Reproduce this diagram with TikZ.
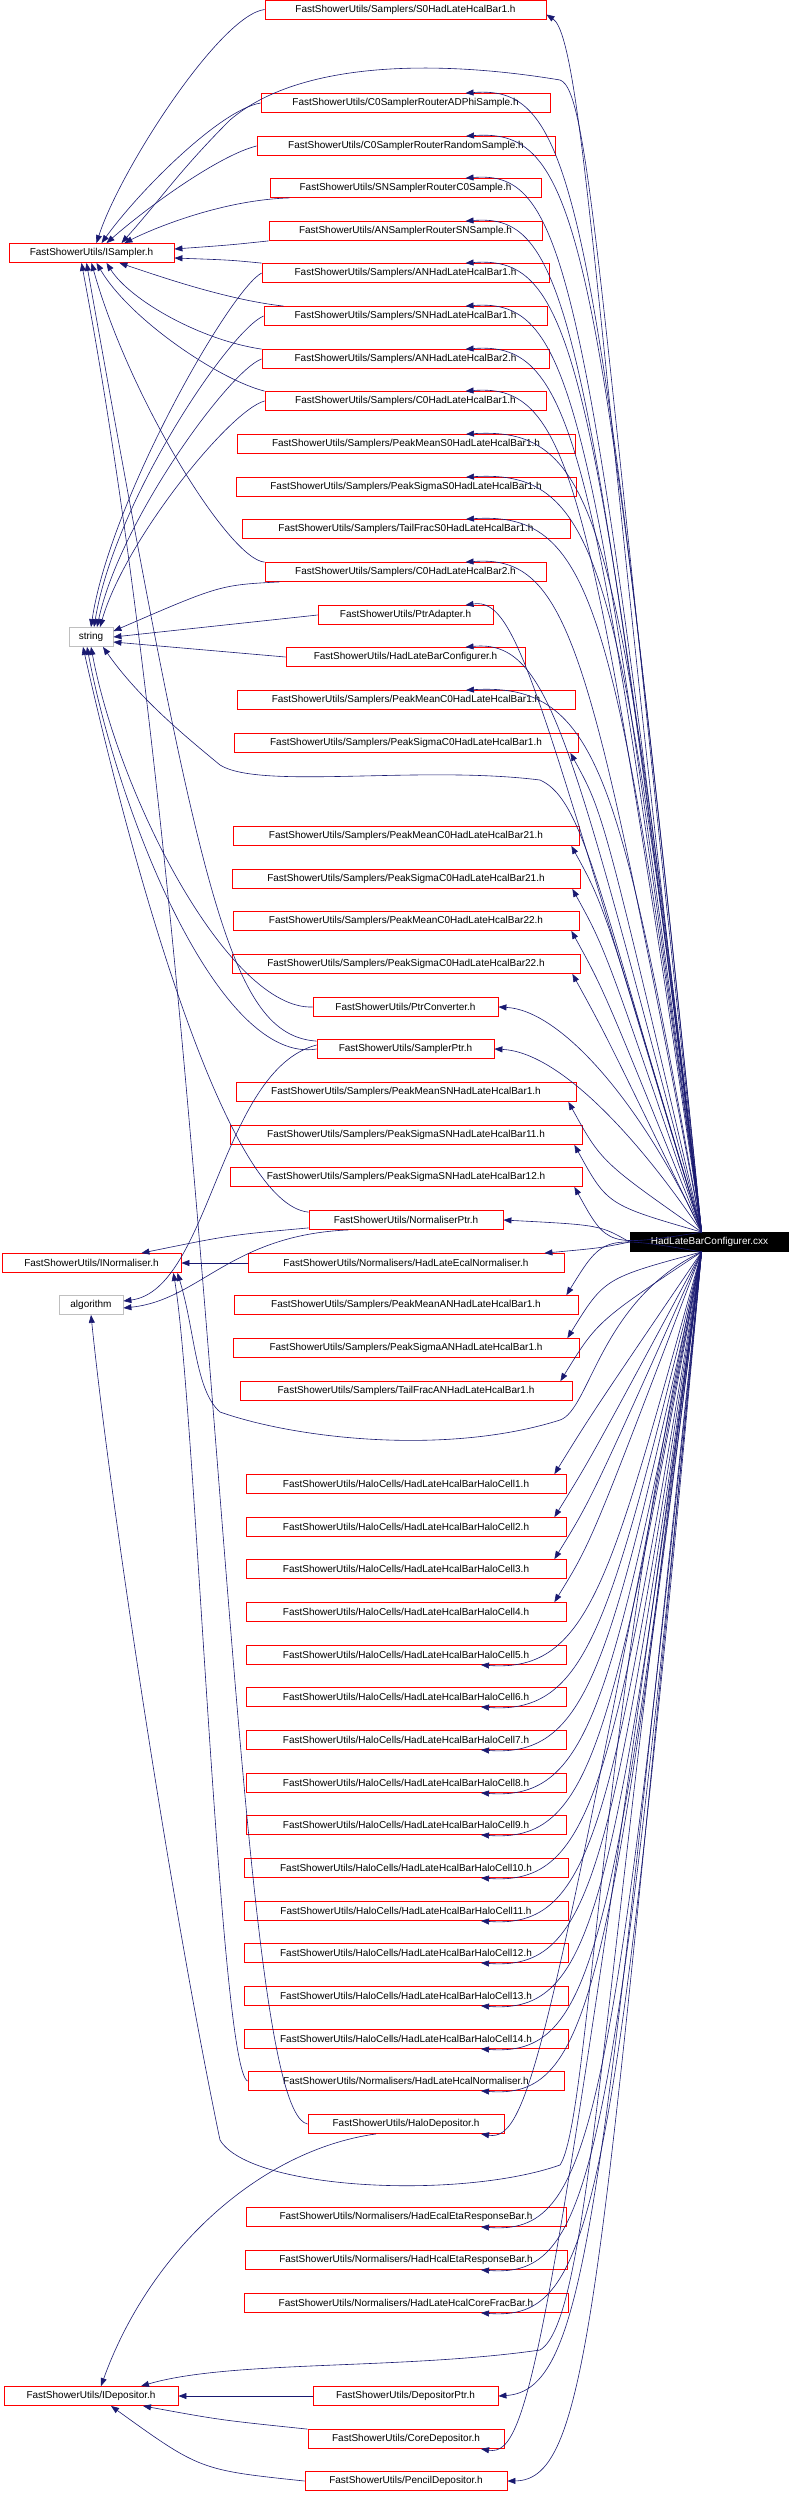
\documentclass[tikz,border=0pt]{standalone}
\usepackage{fontspec}
\setmainfont{Liberation Sans}
\usetikzlibrary{calc,arrows.meta}
\definecolor{edgec}{RGB}{25,25,112}
\begin{document}
\begin{tikzpicture}[x=1pt,y=-1pt,
  box/.style={draw=red,line width=0.8pt,minimum height=19pt,inner sep=0pt,font=\fontsize{10}{12}\selectfont},
  gbox/.style={box,draw=black!25},
  edge/.style={draw=edgec,line width=0.6pt,-{Triangle[length=8pt,width=6pt]}}]
\useasboundingbox (0,0) rectangle (789,2493);
\newcommand\bx[6][box]{\node[#1,minimum width=#4-#3] (#2) at ({(#3+#4)/2},#5) {#6};}
\bx{s0}{265}{546}{9.5}{FastShowerUtils/Samplers/S0HadLateHcalBar1.h}
\bx{adphi}{261}{550}{103}{FastShowerUtils/C0SamplerRouterADPhiSample.h}
\bx{rand}{257}{555}{146}{FastShowerUtils/C0SamplerRouterRandomSample.h}
\bx{snr}{270}{541}{188}{FastShowerUtils/SNSamplerRouterC0Sample.h}
\bx{anr}{269}{542}{231}{FastShowerUtils/ANSamplerRouterSNSample.h}
\bx{isam}{9}{174}{253}{FastShowerUtils/ISampler.h}
\bx{anh1}{262}{549}{273}{FastShowerUtils/Samplers/ANHadLateHcalBar1.h}
\bx{snh1}{264}{547}{316}{FastShowerUtils/Samplers/SNHadLateHcalBar1.h}
\bx{anh2}{262}{549}{359}{FastShowerUtils/Samplers/ANHadLateHcalBar2.h}
\bx{c0h1}{265}{546}{401}{FastShowerUtils/Samplers/C0HadLateHcalBar1.h}
\bx{pms0}{237}{575}{444}{FastShowerUtils/Samplers/PeakMeanS0HadLateHcalBar1.h}
\bx{pss0}{236}{576}{487}{FastShowerUtils/Samplers/PeakSigmaS0HadLateHcalBar1.h}
\bx{tfs0}{242}{570}{529}{FastShowerUtils/Samplers/TailFracS0HadLateHcalBar1.h}
\bx{c0h2}{265}{546}{572}{FastShowerUtils/Samplers/C0HadLateHcalBar2.h}
\bx{pad}{318}{493}{615}{FastShowerUtils/PtrAdapter.h}
\bx[gbox]{str}{69}{113}{637}{string}
\bx{hlbc}{286}{525}{657}{FastShowerUtils/HadLateBarConfigurer.h}
\bx{pmc0}{237}{575}{700}{FastShowerUtils/Samplers/PeakMeanC0HadLateHcalBar1.h}
\bx{psc0}{234}{578}{743}{FastShowerUtils/Samplers/PeakSigmaC0HadLateHcalBar1.h}
\bx{pm21}{233}{579}{836}{FastShowerUtils/Samplers/PeakMeanC0HadLateHcalBar21.h}
\bx{ps21}{232}{580}{879}{FastShowerUtils/Samplers/PeakSigmaC0HadLateHcalBar21.h}
\bx{pm22}{233}{579}{921}{FastShowerUtils/Samplers/PeakMeanC0HadLateHcalBar22.h}
\bx{ps22}{232}{580}{964}{FastShowerUtils/Samplers/PeakSigmaC0HadLateHcalBar22.h}
\bx{pcv}{313}{498}{1007}{FastShowerUtils/PtrConverter.h}
\bx{sptr}{317}{494}{1049}{FastShowerUtils/SamplerPtr.h}
\bx{pmsn}{236}{576}{1092}{FastShowerUtils/Samplers/PeakMeanSNHadLateHcalBar1.h}
\bx{pss11}{230}{582}{1135}{FastShowerUtils/Samplers/PeakSigmaSNHadLateHcalBar11.h}
\bx{pss12}{230}{582}{1177}{FastShowerUtils/Samplers/PeakSigmaSNHadLateHcalBar12.h}
\bx{nptr}{309}{503}{1220}{FastShowerUtils/NormaliserPtr.h}
\node[box,draw=black,fill=black,text=white,minimum width=159] (cxx) at (709.5,1242) {HadLateBarConfigurer.cxx};
\bx{inorm}{2}{181}{1263}{FastShowerUtils/INormaliser.h}
\bx{hlen}{248}{564}{1263}{FastShowerUtils/Normalisers/HadLateEcalNormaliser.h}
\bx[gbox]{alg}{59}{123}{1305}{algorithm}
\bx{pman}{234}{578}{1305}{FastShowerUtils/Samplers/PeakMeanANHadLateHcalBar1.h}
\bx{psan}{233}{579}{1348}{FastShowerUtils/Samplers/PeakSigmaANHadLateHcalBar1.h}
\bx{tfan}{240}{572}{1391}{FastShowerUtils/Samplers/TailFracANHadLateHcalBar1.h}
\foreach \i/\yy in {1/1484,2/1527,3/1569,4/1612,5/1655,6/1697,7/1740,8/1783,9/1825}
  {\bx{cell\i}{246}{566}{\yy}{FastShowerUtils/HaloCells/HadLateHcalBarHaloCell\i.h}}
\foreach \i/\yy in {10/1868,11/1911,12/1953,13/1996,14/2039}
  {\bx{cell\i}{244}{568}{\yy}{FastShowerUtils/HaloCells/HadLateHcalBarHaloCell\i.h}}
\bx{hlhn}{248}{564}{2081}{FastShowerUtils/Normalisers/HadLateHcalNormaliser.h}
\bx{halo}{308}{504}{2124}{FastShowerUtils/HaloDepositor.h}
\bx{hee}{246}{566}{2217}{FastShowerUtils/Normalisers/HadEcalEtaResponseBar.h}
\bx{hhe}{245}{567}{2260}{FastShowerUtils/Normalisers/HadHcalEtaResponseBar.h}
\bx{hcf}{244}{568}{2303}{FastShowerUtils/Normalisers/HadLateHcalCoreFracBar.h}
\bx{idep}{4}{178}{2396}{FastShowerUtils/IDepositor.h}
\bx{dptr}{313}{498}{2396}{FastShowerUtils/DepositorPtr.h}
\bx{cdep}{308}{504}{2439}{FastShowerUtils/CoreDepositor.h}
\bx{pdep}{305}{507}{2481}{FastShowerUtils/PencilDepositor.h}
% ---- edges from cxx
\coordinate (cu) at ($(cxx.north west)+(72,0)$);
\coordinate (cd) at ($(cxx.south west)+(72,0)$);
\newcommand\rtop[1]{\draw[edge] let \p1=(#1.north east) in (cu) .. controls (\x1+45pt,\y1-90pt) and (\x1+25pt,\y1+8pt) .. ($(#1.north)+(60,0)$);}
\newcommand\rbot[1]{\draw[edge] let \p1=(#1.south east) in (cd) .. controls (\x1+45pt,\y1+90pt) and (\x1+25pt,\y1-8pt) .. ($(#1.south)+(75,0)$);}
\newcommand\rcu[1]{\draw[edge] let \p1=(#1.south east) in (cu) .. controls (\x1+25pt,\y1-60pt) .. ($(#1.south east)+(-8,0)$);}
\newcommand\rcd[1]{\draw[edge] let \p1=(#1.north east) in (cd) .. controls (\x1+25pt,\y1+60pt) .. ($(#1.north east)+(-12,0)$);}
\foreach \nm in {adphi,rand,snr,anr,anh1,snh1,anh2,c0h1,pms0,pss0,tfs0,c0h2,pad,hlbc,pmc0} {\rtop{\nm}}
\foreach \nm in {psc0,pm21,ps21,pm22,ps22,pmsn,pss11,pss12} {\rcu{\nm}}
\foreach \nm in {pman,psan,tfan,cell1,cell2,cell3,cell4} {\rcd{\nm}}
\foreach \nm in {cell5,cell6,cell7,cell8,cell9,cell10,cell11,cell12,cell13,cell14,hlhn,halo,hee,hhe,hcf,cdep} {\rbot{\nm}}
\draw[edge] (cu) .. controls (600,400) and (585,40) .. ($(s0.east)+(0,5)$);
\draw[edge] (cu) .. controls (640,1100) and (560,1010) .. (pcv.east);
\draw[edge] (cu) .. controls (640,1140) and (560,1052) .. (sptr.east);
\draw[edge] (cxx.west) .. controls (600,1225) .. (nptr.east);
\draw[edge] (cxx.west) .. controls (600,1248) .. ($(hlen.north east)+(-20,0)$);
\draw[edge] (cd) .. controls (600,2200) and (590,2390) .. (dptr.east);
\draw[edge] (cd) .. controls (600,2300) and (590,2480) .. (pdep.east);
\draw[edge] (cu) .. controls (600,300) and (590,90) .. (560,80) .. controls (440,60) and (300,60) .. (230,120) .. controls (180,170) and (160,200) .. ($(isam.north)+(30,0)$);
\draw[edge] (cu) .. controls (600,900) and (585,800) .. (540,780) .. controls (420,765) and (260,790) .. (220,765) .. controls (190,740) and (140,700) .. ($(str.south)+(12,0)$);
\draw[edge] (cd) .. controls (600,1300) and (590,1410) .. (560,1420) .. controls (450,1455) and (300,1440) .. (220,1412) .. controls (195,1390) and (195,1330) .. ($(inorm.south east)+(-4,0)$);
\draw[edge] (cd) .. controls (600,1700) and (590,2120) .. (560,2165) .. controls (460,2200) and (250,2190) .. (220,2140) .. controls (170,1900) and (110,1500) .. (alg.south);
\draw[edge] (cd) .. controls (600,2000) and (590,2320) .. (540,2350) .. controls (400,2370) and (230,2360) .. ($(idep.north)+(50,0)$);
% ---- left edges
\draw[edge] (s0.west) .. controls (220,15) and (120,170) .. ($(isam.north)+(5,0)$);
\draw[edge] (adphi.west) .. controls (220,110) and (140,190) .. ($(isam.north)+(10,0)$);
\draw[edge] (rand.west) .. controls (220,155) and (150,205) .. ($(isam.north)+(15,0)$);
\draw[edge] ($(snr.south west)+(20,0)$) .. controls (220,200) and (150,230) .. ($(isam.north east)+(-50,0)$);
\draw[edge] ($(anr.south west)+(0,0)$) .. controls (230,245) .. ($(isam.east)+(0,-4)$);
\draw[edge] ($(anh1.north west)+(0,0)$) .. controls (230,260) .. ($(isam.east)+(0,5)$);
\draw[edge] ($(snh1.north west)+(20,0)$) .. controls (230,300) and (170,280) .. ($(isam.south east)+(-55,0)$);
\draw[edge] ($(anh2.north west)+(0,0)$) .. controls (200,340) and (130,300) .. ($(isam.south)+(15,0)$);
\draw[edge] ($(c0h1.north west)+(0,0)$) .. controls (220,380) and (130,320) .. ($(isam.south)+(5,0)$);
\draw[edge] ($(c0h2.north west)+(0,0)$) .. controls (230,560) and (130,400) .. ($(isam.south)+(0,0)$);
\draw[edge] (anh1.west) .. controls (230,290) and (110,500) .. ($(str.north)+(0,0)$);
\draw[edge] (snh1.west) .. controls (230,330) and (115,500) .. ($(str.north)+(3,0)$);
\draw[edge] (anh2.west) .. controls (230,370) and (120,520) .. ($(str.north)+(6,0)$);
\draw[edge] (c0h1.west) .. controls (230,410) and (125,540) .. ($(str.north)+(9,0)$);
\draw[edge] ($(c0h2.south west)+(15,0)$) .. controls (220,585) .. ($(str.north east)+(0,4)$);
\draw[edge] (pad.west) -- (str.east);
\draw[edge] (hlbc.west) -- ($(str.east)+(0,5)$);
\draw[edge] (pcv.west) .. controls (230,1010) and (120,800) .. ($(str.south)+(0,0)$);
\draw[edge] ($(sptr.north west)+(0,2)$) .. controls (230,1035) and (200,900) .. ($(isam.south)+(-5,0)$);
\draw[edge] (sptr.west) .. controls (220,1065) and (120,820) .. ($(str.south)+(-4,0)$);
\draw[edge] ($(sptr.west)+(0,-4)$) .. controls (220,1070) and (210,1290) .. ($(alg.east)+(0,-4)$);
\draw[edge] ($(nptr.north west)+(0,2)$) .. controls (230,1205) and (140,900) .. ($(str.south)+(-8,0)$);
\draw[edge] ($(nptr.south west)+(0,-2)$) .. controls (230,1235) .. ($(inorm.north east)+(-40,0)$);
\draw[edge] ($(nptr.south west)+(40,0)$) .. controls (230,1235) and (200,1300) .. ($(alg.east)+(0,3)$);
\draw[edge] (hlen.west) -- (inorm.east);
\draw[edge] (hlhn.west) .. controls (220,2070) and (195,1400) .. ($(inorm.south east)+(-8,0)$);
\draw[edge] ($(halo.west)$) .. controls (230,2110) and (220,1000) .. ($(isam.south)+(-10,0)$);
\draw[edge] ($(halo.south)+(-30,0)$) .. controls (260,2150) and (150,2250) .. ($(idep.north)+(10,0)$);
\draw[edge] (dptr.west) -- (idep.east);
\draw[edge] (cdep.north west) .. controls (220,2420) .. ($(idep.south)+(52,0)$);
\draw[edge] (pdep.west) .. controls (200,2470) .. ($(idep.south)+(20,0)$);
\end{tikzpicture}
\end{document}
